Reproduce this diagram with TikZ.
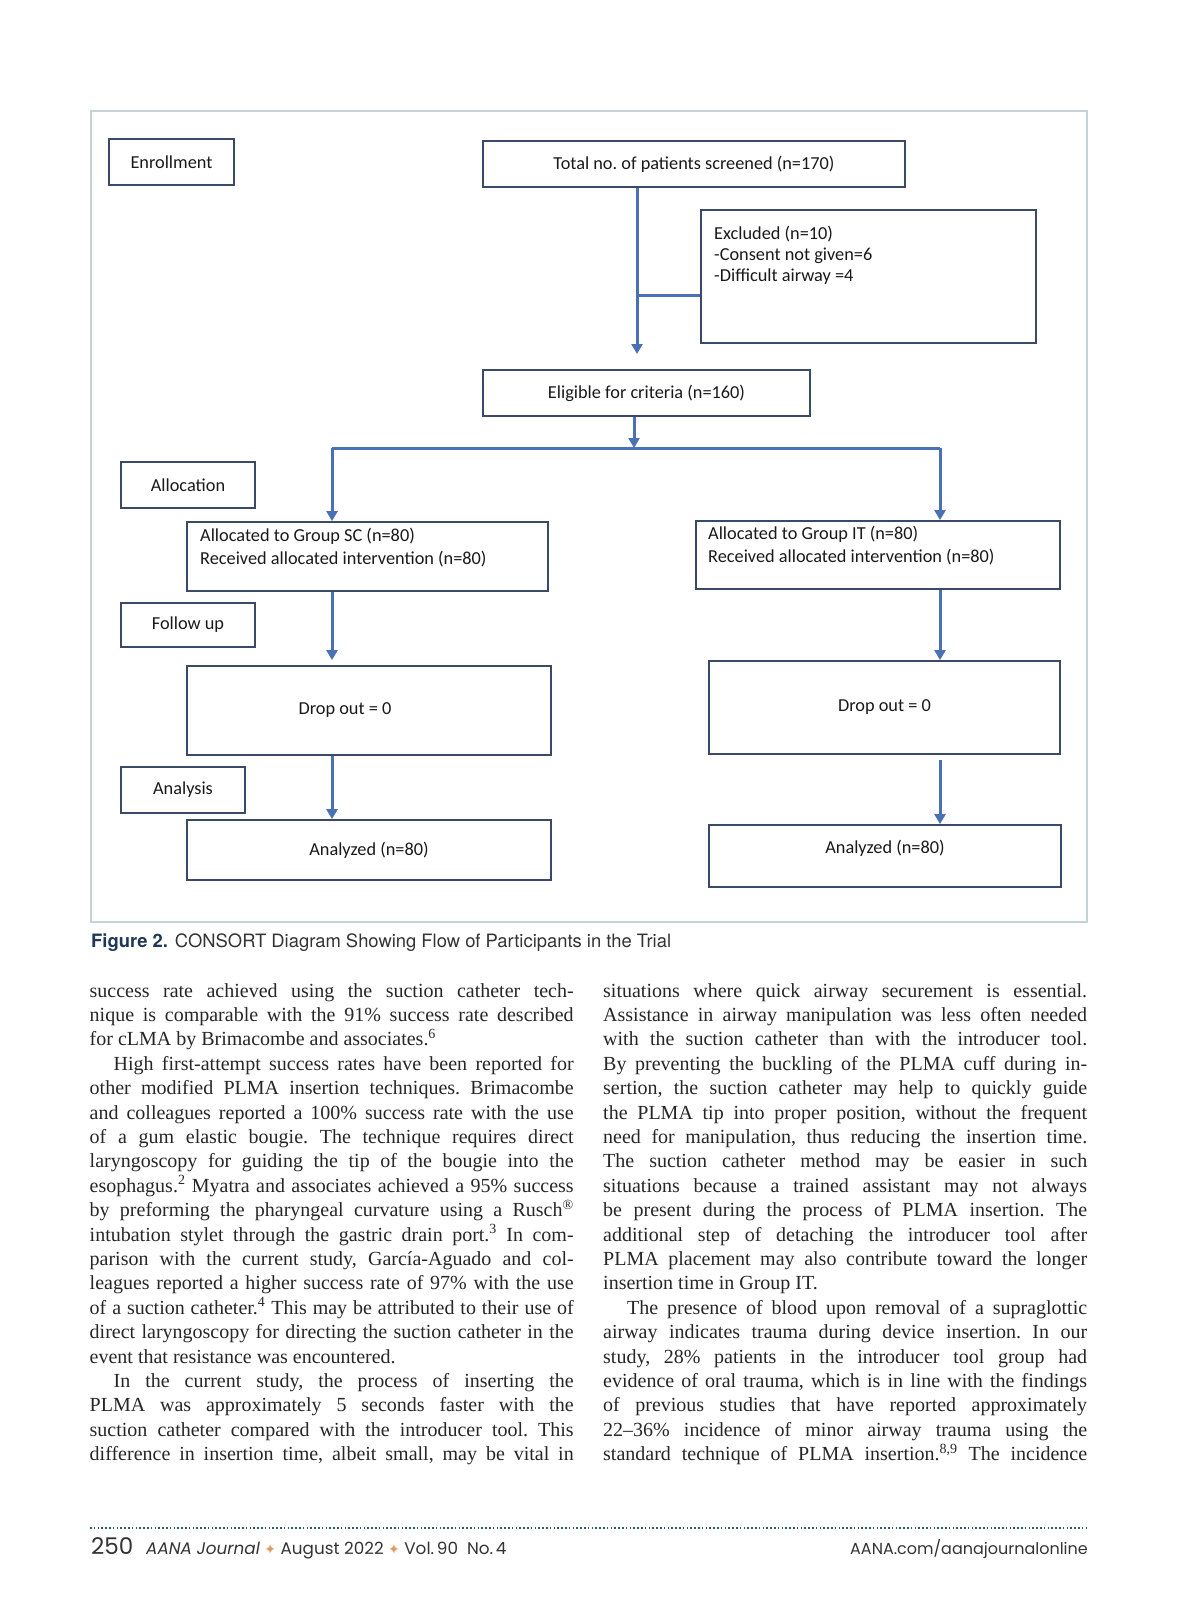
\documentclass[tikz,border=0pt]{standalone}
\usepackage{fontspec}
\setmainfont{Liberation Serif}
\newfontfamily\boxfont{Carlito}
\newfontfamily\capfont{TeX Gyre Heros}
\newfontfamily\footfont{Poppins}
\newfontfamily\symfont{DejaVu Sans}
\usetikzlibrary{arrows.meta,positioning,calc}
\frenchspacing

\definecolor{boxline}{HTML}{3B4866}
\definecolor{arrowblue}{HTML}{4A71B6}
\definecolor{framegray}{HTML}{C5D3D6}
\definecolor{capblue}{HTML}{1E3856}
\definecolor{bodytext}{HTML}{262626}
\definecolor{footteal}{HTML}{2F5E5C}
\definecolor{footorange}{HTML}{E39A5F}

\newlength\colw
\setlength\colw{484pt}
\newcommand\jline[1]{\hbox to\colw{#1}}
\newcommand\pline[1]{\hbox to\colw{#1\hfil}}
\newcommand\iline[1]{\hbox to\colw{\kern24pt #1}}

\tikzset{
  box/.style={draw=boxline, line width=1.8pt, inner sep=0pt, font=\boxfont\fontsize{18.3}{21}\selectfont, text=black!90},
  boxlabel/.style={inner sep=0pt, align=left, anchor=base west, font=\boxfont\fontsize{18.3}{23}\selectfont, text=black!90},
  flow/.style={draw=arrowblue, line width=3pt, -{Triangle[length=10pt,width=11pt]}},
  flowline/.style={draw=arrowblue, line width=3pt},
  column/.style={inner sep=0pt, anchor=base west, font=\fontsize{20}{24.4}\selectfont, text=bodytext},
  foot/.style={inner sep=0pt, font=\footfont\fontsize{16}{16}\selectfont, text=black!80},
}

\begin{document}
\begin{tikzpicture}[x=1pt,y=-1pt]
  \useasboundingbox (0,0) rectangle (1200,1606);
  % figure frame
  \draw[framegray, line width=1.5pt] (91,111) rectangle (1087,922);

  % stage labels
  \node[box, minimum width=125pt, minimum height=46pt] (enroll) at (171.5,162) {Enrollment};
  \node[box, minimum width=134pt, minimum height=46pt] (allocation) at (188,485) {Allocation};
  \node[box, minimum width=134pt, minimum height=44pt] (followup) at (188,625) {Follow up};
  \node[box, minimum width=124pt, minimum height=46pt] (analysis) at (183,790) {Analysis};

  % enrollment
  \node[box, minimum width=422pt, minimum height=46pt] (screened) at (694,164) {Total no. of patients screened (n=170)};
  \node[box, minimum width=335pt, minimum height=133pt] (excluded) at (868.5,276.5) {};
  \node[boxlabel, font=\boxfont\fontsize{18.3}{21}\selectfont] at (714,281) {Excluded (n=10)\\-Consent not given=6\\-Difficult airway =4};
  \node[box, minimum width=327pt, minimum height=46pt] (eligible) at (646.5,393) {Eligible for criteria (n=160)};

  % allocation
  \node[box, minimum width=361pt, minimum height=69pt] (allocSC) at (367.5,556.5) {};
  \node[boxlabel] at (200,564) {Allocated to Group SC (n=80)\\Received allocated intervention (n=80)};
  \node[box, minimum width=364pt, minimum height=68pt] (allocIT) at (878,555) {};
  \node[boxlabel] at (708,562) {Allocated to Group IT (n=80)\\Received allocated intervention (n=80)};

  % follow up
  \node[box, minimum width=364pt, minimum height=89pt] (dropSC) at (369,710.5) {};
  \node[boxlabel, anchor=center] at ([shift={(-24,0)}]dropSC.center) {Drop out = 0};
  \node[box, minimum width=351pt, minimum height=93pt] (dropIT) at (884.5,707.5) {Drop out = 0};

  % analysis
  \node[box, minimum width=364pt, minimum height=60pt] (analyzedSC) at (369,850) {Analyzed (n=80)};
  \node[box, minimum width=352pt, minimum height=62pt] (analyzedIT) at (885,856) {};
  \node[boxlabel, anchor=center] at ([shift={(0,-8)}]analyzedIT.center) {Analyzed (n=80)};

  % connectors
  \coordinate (tdown) at (637,354);
  \coordinate (split) at (634,448);
  \coordinate (splitL) at (332,448);
  \coordinate (splitR) at (940,448);
  \draw[flow] (screened.south -| tdown) -- (tdown);
  \draw[flowline] (tdown |- 0,295) -- (excluded.west |- 0,295);
  \draw[flow] (eligible.south -| split) -- (split);
  \draw[flowline] (splitL) -- (splitR);
  \draw[flow] (splitL) -- (allocSC.north -| splitL);
  \draw[flow] (splitR) -- (allocIT.north -| splitR);
  \draw[flow, shorten >=5pt] (allocSC.south -| splitL) -- (dropSC.north -| splitL);
  \draw[flow] (allocIT.south -| splitR) -- (dropIT.north -| splitR);
  \draw[flow] (dropSC.south -| splitL) -- (analyzedSC.north -| splitL);
  \draw[flow, shorten <=5pt] (dropIT.south -| splitR) -- (analyzedIT.north -| splitR);

  % caption
  \node[inner sep=0pt, anchor=base west, font=\capfont\fontsize{18.4}{21}\selectfont, text=black!80] (caption) at (91,947)
    {{\bfseries\color{capblue}Figure 2.}\hspace{7pt}CONSORT Diagram Showing Flow of Participants in the Trial};

  % body text
  \node[column] (leftcol) at (89.5,997) {\vtop{\lineskiplimit=-50pt
    \jline{success rate achieved using the suction catheter tech-}
    \jline{nique is comparable with the 91\% success rate described}
    \pline{for cLMA by Brimacombe and associates.\textsuperscript{6}}
    \iline{High first-attempt success rates have been reported for}
    \jline{other modified PLMA insertion techniques. Brimacombe}
    \jline{and colleagues reported a 100\% success rate with the use}
    \jline{of a gum elastic bougie. The technique requires direct}
    \jline{laryngoscopy for guiding the tip of the bougie into the}
    \jline{esophagus.\textsuperscript{2} Myatra and associates achieved a 95\% success}
    \jline{by preforming the pharyngeal curvature using a Rusch\textsuperscript{®}}
    \jline{intubation stylet through the gastric drain port.\textsuperscript{3} In com-}
    \jline{parison with the current study, García-Aguado and col-}
    \jline{leagues reported a higher success rate of 97\% with the use}
    \jline{of a suction catheter.\textsuperscript{4} This may be attributed to their use of}
    \jline{direct laryngoscopy for directing the suction catheter in the}
    \pline{event that resistance was encountered.}
    \iline{In the current study, the process of inserting the}
    \jline{PLMA was approximately 5 seconds faster with the}
    \jline{suction catheter compared with the introducer tool. This}
    \jline{difference in insertion time, albeit small, may be vital in}}};
  \node[column] (rightcol) at (603,997) {\vtop{\lineskiplimit=-50pt
    \jline{situations where quick airway securement is essential.}
    \jline{Assistance in airway manipulation was less often needed}
    \jline{with the suction catheter than with the introducer tool.}
    \jline{By preventing the buckling of the PLMA cuff during in-}
    \jline{sertion, the suction catheter may help to quickly guide}
    \jline{the PLMA tip into proper position, without the frequent}
    \jline{need for manipulation, thus reducing the insertion time.}
    \jline{The suction catheter method may be easier in such}
    \jline{situations because a trained assistant may not always}
    \jline{be present during the process of PLMA insertion. The}
    \jline{additional step of detaching the introducer tool after}
    \jline{PLMA placement may also contribute toward the longer}
    \pline{insertion time in Group IT.}
    \iline{The presence of blood upon removal of a supraglottic}
    \jline{airway indicates trauma during device insertion. In our}
    \jline{study, 28\% patients in the introducer tool group had}
    \jline{evidence of oral trauma, which is in line with the findings}
    \jline{of previous studies that have reported approximately}
    \jline{22–36\% incidence of minor airway trauma using the}
    \jline{standard technique of PLMA insertion.\textsuperscript{8,9} The incidence}}};

  % footer
  \draw[footteal, line width=1.6pt, dash pattern=on 1.6pt off 2.2pt] (90,1528) -- (1088,1528);
  \node[foot, anchor=base west, font=\footfont\fontsize{23}{23}\selectfont] (pageno) at (91,1554) {250};
  \node[foot, anchor=base west, font=\footfont\fontsize{16.8}{17}\selectfont] (journal) at (146,1554)
    {{\itshape AANA Journal} \textcolor{footorange}{\symfont\fontsize{14}{14}\selectfont ✦} August 2022 \textcolor{footorange}{\symfont\fontsize{14}{14}\selectfont ✦} Vol.\,90\ \ No.\,4};
  \node[foot, anchor=base east] (site) at (1088,1554) {AANA.com/aanajournalonline};
\end{tikzpicture}
\end{document}
